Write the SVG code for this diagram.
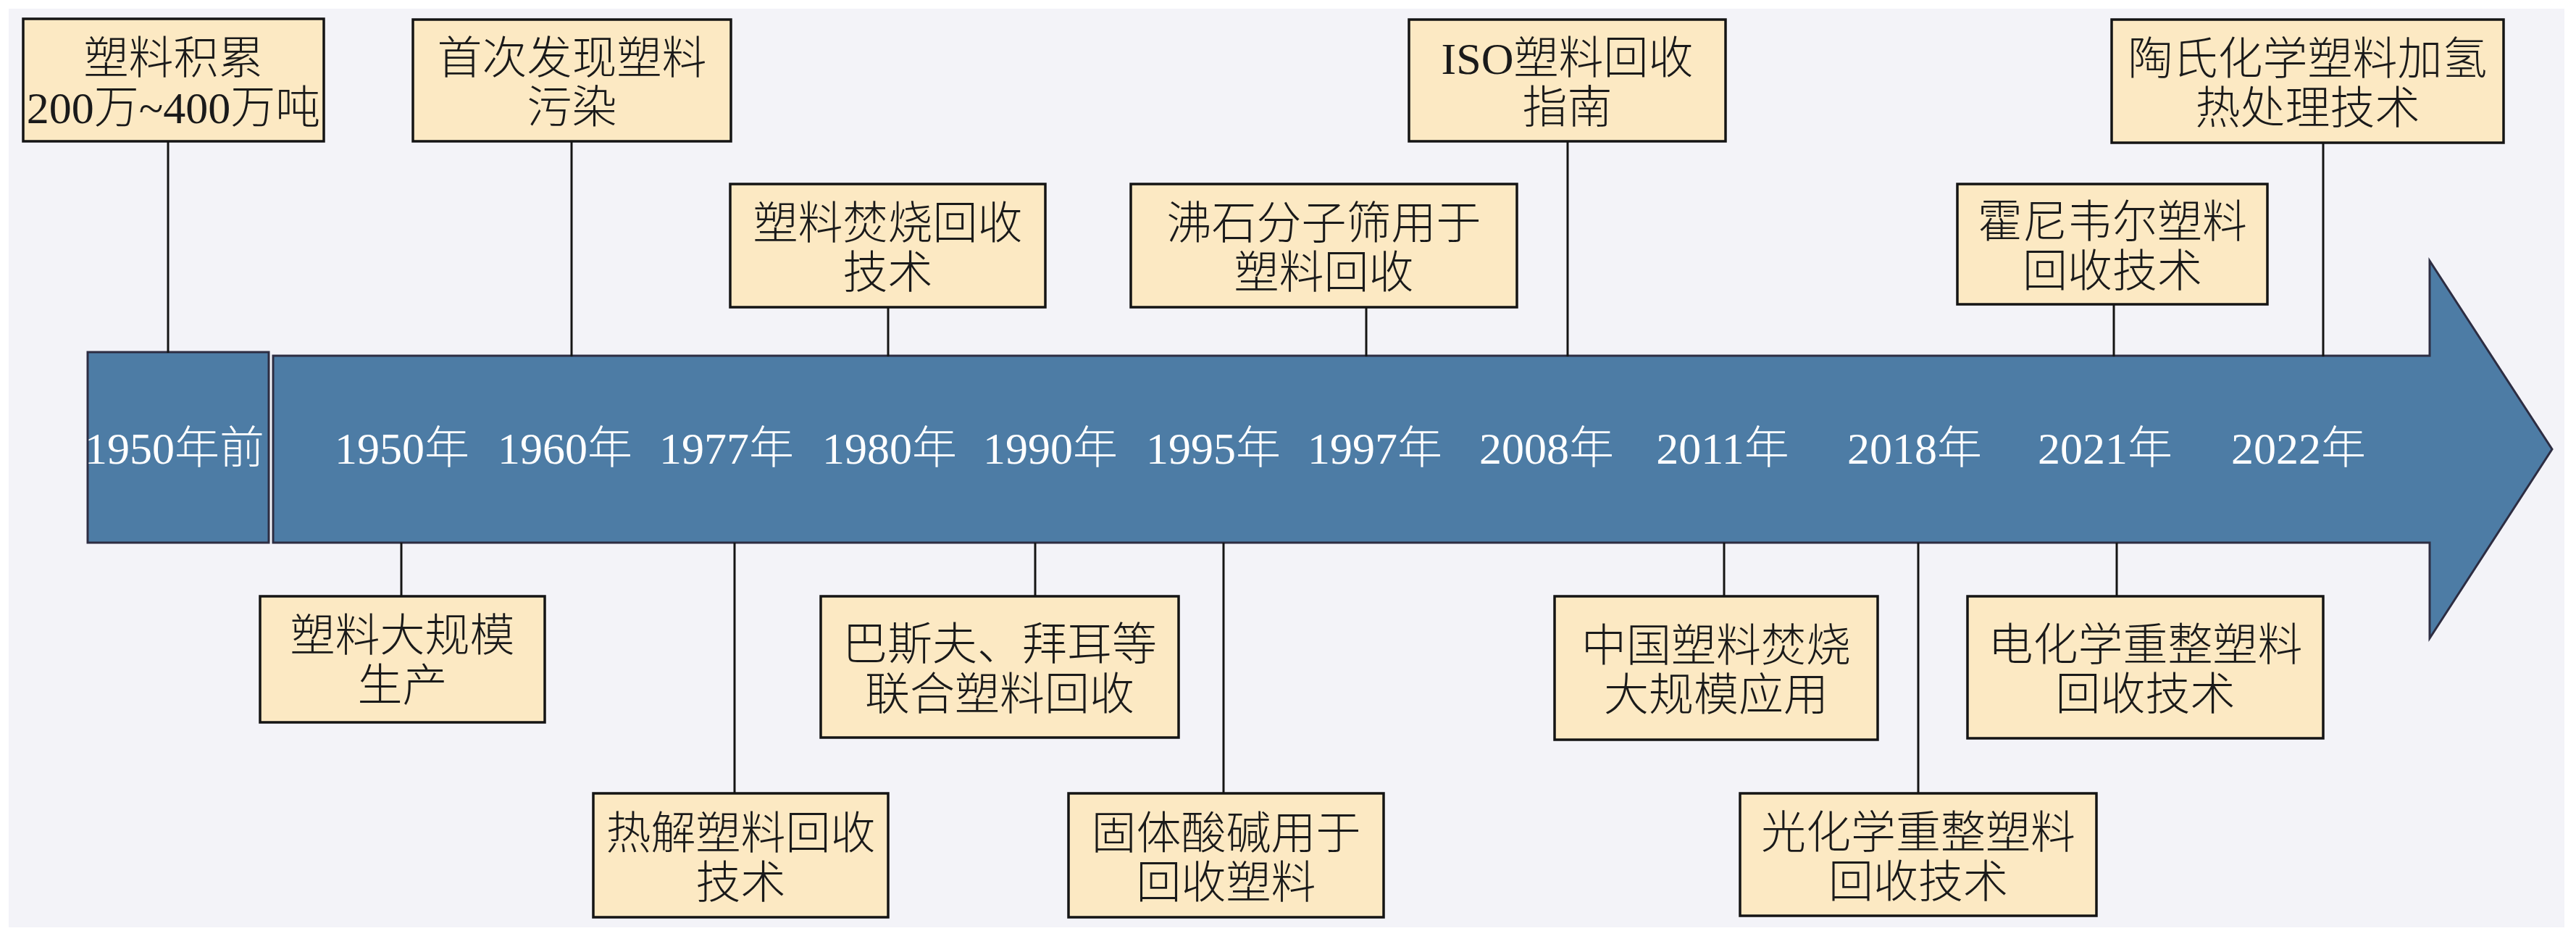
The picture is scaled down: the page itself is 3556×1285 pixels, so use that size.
<svg xmlns="http://www.w3.org/2000/svg" width="3556" height="1285" viewBox="0 0 3556 1285">
<style>
.box{fill:#fce9c3;stroke:#141414;stroke-width:3.5}
.blue{fill:#4d7ca5;stroke:#2d2d42;stroke-width:3}
.t{font-family:"Liberation Serif","Noto Sans CJK SC",serif;font-size:62px;fill:#1a1a1a;text-anchor:middle;font-weight:300}
.y{font-family:"Liberation Serif","Noto Sans CJK SC",serif;font-size:62px;fill:#ffffff;text-anchor:middle;font-weight:300}
.c{stroke:#141414;stroke-width:3;fill:none}
</style>
<rect x="0" y="0" width="3556" height="1285" fill="#ffffff"/>
<rect x="12" y="12" width="3528" height="1268" fill="#f3f3f8"/>
<g id="timeline">
<path class="blue" d="M377,491 L3354,491 L3354,360 L3523,620 L3354,881 L3354,749 L377,749 Z"/>
</g>
<g id="pre1950">
<rect class="blue" x="121" y="486" width="250" height="263"/>
<text class="y" x="241" y="640">1950年前</text>
</g>
<g id="years">
<text class="y" x="555" y="640">1950年</text>
<text class="y" x="780" y="640">1960年</text>
<text class="y" x="1003" y="640">1977年</text>
<text class="y" x="1228" y="640">1980年</text>
<text class="y" x="1450" y="640">1990年</text>
<text class="y" x="1675" y="640">1995年</text>
<text class="y" x="1898" y="640">1997年</text>
<text class="y" x="2135" y="640">2008年</text>
<text class="y" x="2378" y="640">2011年</text>
<text class="y" x="2643" y="640">2018年</text>
<text class="y" x="2906" y="640">2021年</text>
<text class="y" x="3173" y="640">2022年</text>
</g>
<g id="connectors">
<line class="c" x1="232" y1="195" x2="232" y2="487"/>
<line class="c" x1="789" y1="195" x2="789" y2="492"/>
<line class="c" x1="1226" y1="424" x2="1226" y2="492"/>
<line class="c" x1="1886" y1="424" x2="1886" y2="492"/>
<line class="c" x1="2164" y1="195" x2="2164" y2="492"/>
<line class="c" x1="2918" y1="420" x2="2918" y2="492"/>
<line class="c" x1="3207" y1="197" x2="3207" y2="492"/>
<line class="c" x1="554" y1="749" x2="554" y2="823"/>
<line class="c" x1="1014" y1="749" x2="1014" y2="1095"/>
<line class="c" x1="1429" y1="749" x2="1429" y2="823"/>
<line class="c" x1="1689" y1="749" x2="1689" y2="1095"/>
<line class="c" x1="2380" y1="749" x2="2380" y2="823"/>
<line class="c" x1="2648" y1="749" x2="2648" y2="1095"/>
<line class="c" x1="2922" y1="749" x2="2922" y2="823"/>
</g>
<g id="nodeA">
<rect class="box" x="32" y="26" width="415" height="169"/>
<text class="t" x="239.5" y="101.5">塑料积累</text>
<text class="t" x="239.5" y="169.5">200万~400万吨</text>
</g>
<g id="nodeB">
<rect class="box" x="570" y="27" width="439" height="168"/>
<text class="t" x="789.5" y="102">首次发现塑料</text>
<text class="t" x="789.5" y="170">污染</text>
</g>
<g id="nodeC">
<rect class="box" x="1008" y="254" width="435" height="170"/>
<text class="t" x="1225.5" y="330">塑料焚烧回收</text>
<text class="t" x="1225.5" y="398">技术</text>
</g>
<g id="nodeD">
<rect class="box" x="1561" y="254" width="533" height="170"/>
<text class="t" x="1827.5" y="330">沸石分子筛用于</text>
<text class="t" x="1827.5" y="398">塑料回收</text>
</g>
<g id="nodeE">
<rect class="box" x="1945" y="27" width="437" height="168"/>
<text class="t" x="2163.5" y="102">ISO塑料回收</text>
<text class="t" x="2163.5" y="170">指南</text>
</g>
<g id="nodeF">
<rect class="box" x="2915" y="27" width="541" height="170"/>
<text class="t" x="3185.5" y="103">陶氏化学塑料加氢</text>
<text class="t" x="3185.5" y="171">热处理技术</text>
</g>
<g id="nodeG">
<rect class="box" x="2702" y="254" width="428" height="166"/>
<text class="t" x="2916" y="328">霍尼韦尔塑料</text>
<text class="t" x="2916" y="396">回收技术</text>
</g>
<g id="nodeH">
<rect class="box" x="359" y="823" width="393" height="174"/>
<text class="t" x="555.5" y="899">塑料大规模</text>
<text class="t" x="555.5" y="968">生产</text>
</g>
<g id="nodeI">
<rect class="box" x="819" y="1095" width="407" height="171"/>
<text class="t" x="1022.5" y="1171.5">热解塑料回收</text>
<text class="t" x="1022.5" y="1239.5">技术</text>
</g>
<g id="nodeJ">
<rect class="box" x="1133" y="823" width="494" height="195"/>
<text class="t" x="1380" y="911">巴斯夫、拜耳等</text>
<text class="t" x="1380" y="980">联合塑料回收</text>
</g>
<g id="nodeK">
<rect class="box" x="1475" y="1095" width="435" height="171"/>
<text class="t" x="1692.5" y="1171.5">固体酸碱用于</text>
<text class="t" x="1692.5" y="1239.5">回收塑料</text>
</g>
<g id="nodeL">
<rect class="box" x="2146" y="823" width="446" height="198"/>
<text class="t" x="2369" y="913">中国塑料焚烧</text>
<text class="t" x="2369" y="981">大规模应用</text>
</g>
<g id="nodeM">
<rect class="box" x="2402" y="1095" width="492" height="169"/>
<text class="t" x="2648" y="1170.5">光化学重整塑料</text>
<text class="t" x="2648" y="1238.5">回收技术</text>
</g>
<g id="nodeN">
<rect class="box" x="2716" y="823" width="491" height="196"/>
<text class="t" x="2961.5" y="912">电化学重整塑料</text>
<text class="t" x="2961.5" y="980">回收技术</text>
</g>
</svg>
